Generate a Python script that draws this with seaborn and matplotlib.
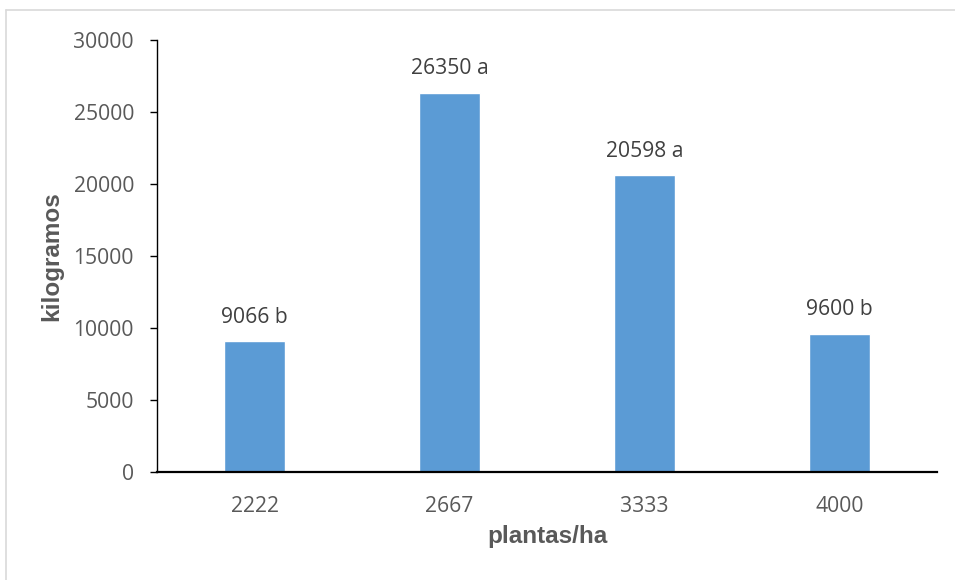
import matplotlib
matplotlib.use("Agg")
import matplotlib.pyplot as plt
import seaborn as sns
import pandas as pd
from matplotlib.lines import Line2D

# Data
densidades = ["2222", "2667", "3333", "4000"]
rendimiento = [9066, 26350, 20598, 9600]
letras = ["b", "a", "a", "b"]
y_ticks = [0, 5000, 10000, 15000, 20000, 25000, 30000]

sns.set_theme(style="white")
plt.rcParams["font.family"] = ["Open Sans", "DejaVu Sans"]

df = pd.DataFrame({"plantas": densidades, "kg": rendimiento})

fig = plt.figure(figsize=(9.55, 5.8), dpi=100)
ax = fig.add_axes([157 / 955, 1 - 472 / 580, (937 - 157) / 955, (472 - 40) / 580])

sns.barplot(data=df, x="plantas", y="kg", order=densidades, color="#5B9BD5",
            saturation=1, width=0.31, ax=ax)

ax.set_ylim(0, 30000)
ax.set_yticks(y_ticks)
ax.set_yticklabels([str(t) for t in y_ticks])

for sp in ["top", "right"]:
    ax.spines[sp].set_visible(False)
ax.spines["left"].set_color("black")
ax.spines["left"].set_linewidth(1.0)
ax.spines["bottom"].set_color("black")
ax.spines["bottom"].set_linewidth(1.6)

ax.tick_params(axis="y", which="major", direction="out", length=5, width=1,
               color="black", labelsize=15.2, labelcolor="#595959", pad=11.5, left=True)
ax.tick_params(axis="x", which="major", length=0, labelsize=15.2,
               labelcolor="#595959", pad=17)

ax.set_xlabel("plantas/ha", fontsize=17.5, fontweight="bold", color="#595959",
              family=["Liberation Sans", "DejaVu Sans"], labelpad=6)
ax.set_ylabel("kilogramos", fontsize=17.5, fontweight="bold", color="#595959",
              family=["Liberation Sans", "DejaVu Sans"], labelpad=7)

for i, (v, l) in enumerate(zip(rendimiento, letras)):
    ax.annotate(f"{v} {l}", xy=(i, v), xytext=(0, 17.5), textcoords="offset points",
                ha="center", va="center", fontsize=15.2, color="#404040")

# Light frame around the chart area
fig.add_artist(Line2D([6 / 955, 1], [1 - 10 / 580, 1 - 10 / 580],
                      transform=fig.transFigure, color="#D9D9D9", lw=1.2))
fig.add_artist(Line2D([6 / 955, 6 / 955], [0, 1 - 10 / 580],
                      transform=fig.transFigure, color="#D9D9D9", lw=1.2))

fig.savefig("out.png", dpi=100)
